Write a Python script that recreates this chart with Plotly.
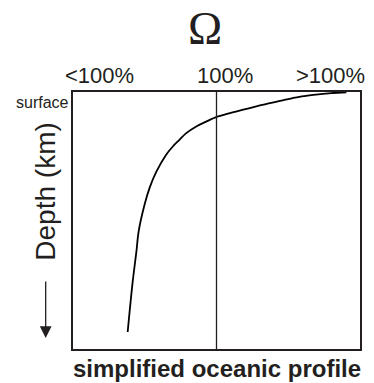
import plotly.graph_objects as go

# Saturation state (Omega) relative position: 0 = far left, 1 = 100%, 2 = far right
omega = [1.905, 1.801, 1.709, 1.594, 1.479, 1.363, 1.271, 1.179, 1.087, 1.006,
         0.925, 0.856, 0.787, 0.740, 0.694, 0.648, 0.581, 0.533, 0.498, 0.457,
         0.443, 0.415, 0.381]
# Relative depth: 0 = surface, 1 = bottom of box
depth = [0.001, 0.004, 0.009, 0.017, 0.030, 0.044, 0.057, 0.070, 0.083, 0.096,
         0.116, 0.135, 0.161, 0.187, 0.213, 0.245, 0.310, 0.374, 0.440, 0.544,
         0.615, 0.743, 0.934]

top_labels = ["<100%", "100%", ">100%"]
top_label_pos = [0.187, 1.059, 1.796]
saturation_line = 1.0

ink = "#231f20"

fig = go.Figure()
fig.add_trace(go.Scatter(x=omega, y=depth, mode="lines",
                         line=dict(color="black", width=1.8, shape="spline", smoothing=1.0),
                         hoverinfo="skip", showlegend=False))
fig.add_trace(go.Scatter(x=[saturation_line, saturation_line], y=[0, 1], mode="lines",
                         line=dict(color=ink, width=1.3),
                         hoverinfo="skip", showlegend=False))

annotations = []
for lab, pos in zip(top_labels, top_label_pos):
    annotations.append(dict(x=pos, y=1.066, xref="x", yref="paper", text=lab,
                            showarrow=False, xanchor="center", yanchor="middle",
                            font=dict(family="Liberation Sans, Arial", size=22, color=ink)))
annotations += [
    dict(x=(206 - 73) / 289, y=1 + (92 - 28) / 257, xref="paper", yref="paper",
         text="Ω", showarrow=False, xanchor="center", yanchor="middle",
         font=dict(family="Liberation Serif, Times New Roman", size=46, color=ink)),
    dict(x=0, y=1 - (102 - 92) / 257, xref="paper", yref="paper", xshift=-2,
         text="surface", showarrow=False, xanchor="right", yanchor="middle",
         font=dict(family="Liberation Sans, Arial", size=16, color=ink)),
    dict(x=(45 - 73) / 289, y=(349 - 191.5) / 257, xref="paper", yref="paper",
         text="Depth (km)", textangle=-90, showarrow=False,
         xanchor="center", yanchor="middle",
         font=dict(family="Liberation Sans, Arial", size=28, color=ink)),
    dict(x=(45.5 - 73) / 289, y=(349 - 338) / 257, xref="paper", yref="paper",
         text="", showarrow=True, ax=0, ay=-58, axref="pixel", ayref="pixel",
         arrowhead=2, arrowsize=1.8, arrowwidth=1.3, arrowcolor=ink, standoff=0),
    dict(x=(218.5 - 73) / 289, y=-(368 - 349) / 257, xref="paper", yref="paper",
         text="<b>simplified oceanic profile</b>", showarrow=False,
         xanchor="center", yanchor="middle",
         font=dict(family="Liberation Sans, Arial", size=24, color=ink)),
]

fig.update_layout(
    width=374, height=383,
    margin=dict(l=73, r=12, t=92, b=34),
    paper_bgcolor="white", plot_bgcolor="white",
    annotations=annotations,
    xaxis=dict(range=[0, 2], showgrid=False, zeroline=False, showticklabels=False,
               ticks="", showline=True, mirror=True, linecolor=ink, linewidth=1.5),
    yaxis=dict(range=[1, 0], showgrid=False, zeroline=False, showticklabels=False,
               ticks="", showline=True, mirror=True, linecolor=ink, linewidth=1.5),
)

fig.write_html("out.html")
